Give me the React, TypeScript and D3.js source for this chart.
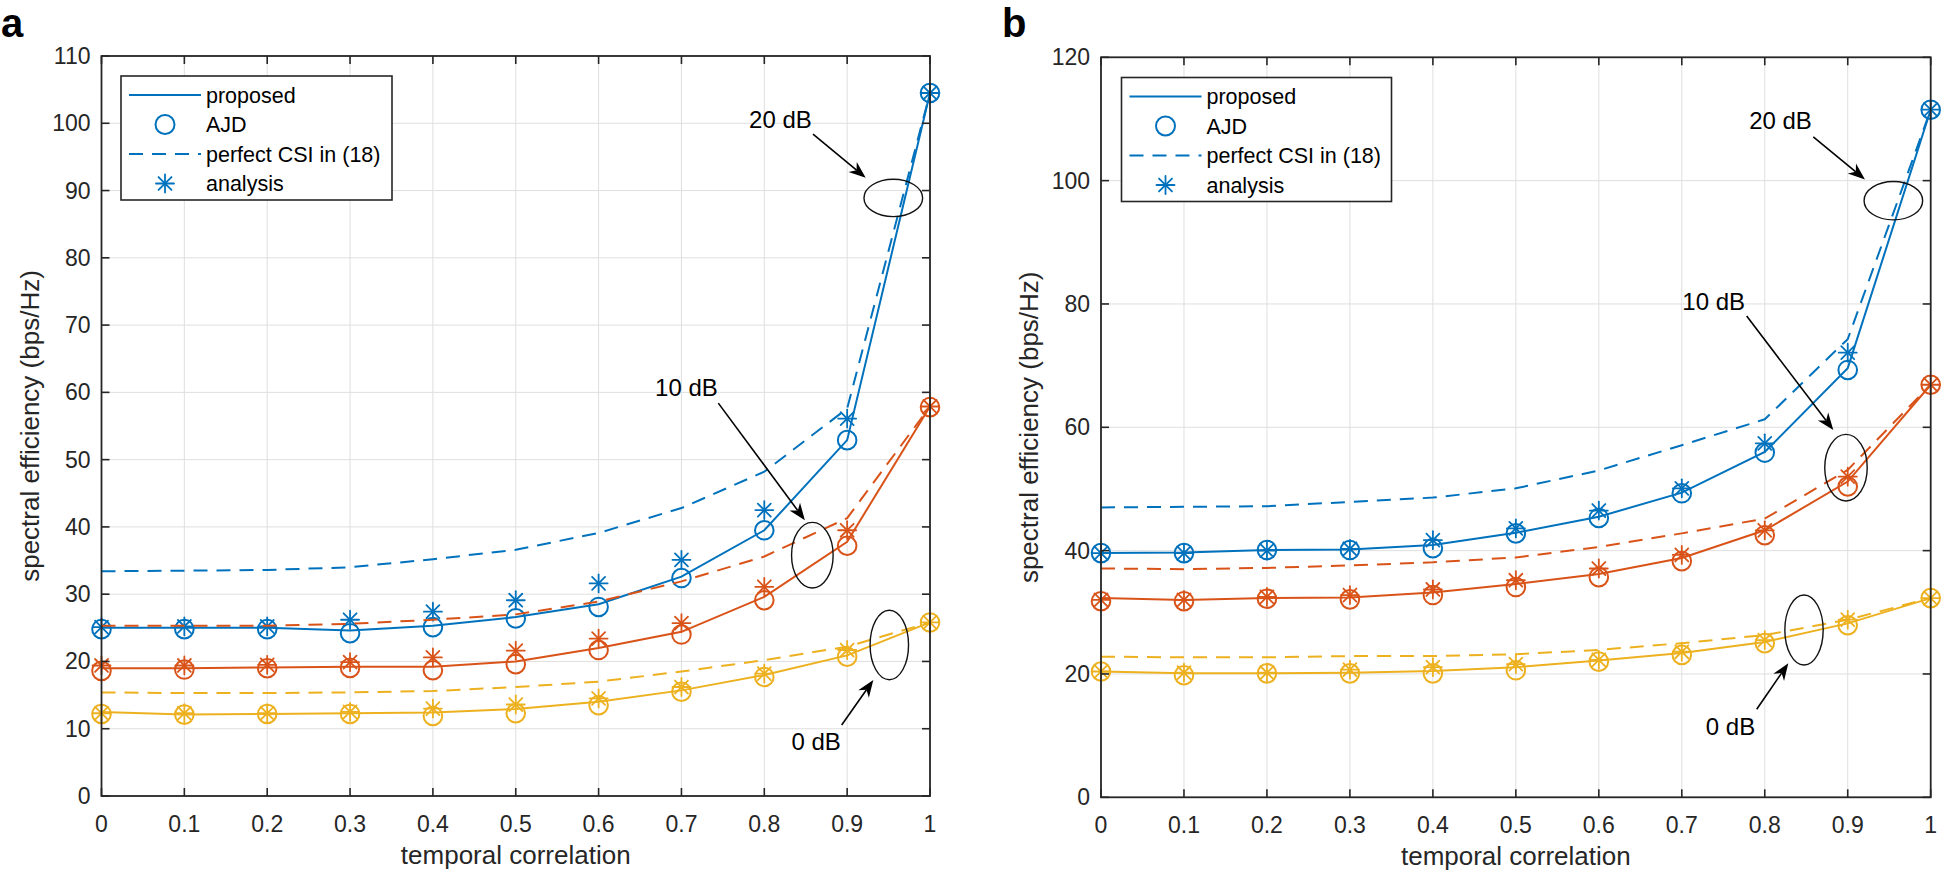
import React from 'react';
import * as d3 from 'd3';

// ---------------- data ----------------
const xValues = [0, 0.1, 0.2, 0.3, 0.4, 0.5, 0.6, 0.7, 0.8, 0.9, 1];
const xTicks = [0, 0.1, 0.2, 0.3, 0.4, 0.5, 0.6, 0.7, 0.8, 0.9, 1];
const yTicksA = [0, 10, 20, 30, 40, 50, 60, 70, 80, 90, 100, 110];
const yTicksB = [0, 20, 40, 60, 80, 100, 120];

// panel a
const proposedA20 = [25.0, 25.0, 25.0, 24.6, 25.3, 26.6, 28.5, 32.6, 39.5, 52.9, 104.5];
const ajdA20 = [24.8, 24.8, 24.8, 24.2, 25.1, 26.4, 28.1, 32.4, 39.5, 52.9, 104.5];
const csiA20 = [33.4, 33.5, 33.6, 34.0, 35.2, 36.6, 39.1, 42.8, 48.2, 57.6, 104.5];
const anaA20 = [25.1, 25.2, 25.2, 26.2, 27.4, 29.1, 31.6, 35.1, 42.5, 56.1, 104.5];

const proposedA10 = [19.0, 19.0, 19.1, 19.2, 19.2, 20.0, 22.0, 24.4, 29.6, 37.8, 57.9];
const ajdA10 = [18.6, 18.8, 19.0, 19.05, 18.7, 19.6, 21.7, 24.0, 29.1, 37.2, 57.8];
const csiA10 = [25.3, 25.3, 25.3, 25.6, 26.2, 27.0, 28.9, 31.9, 35.6, 41.3, 57.9];
const anaA10 = [19.4, 19.4, 19.5, 19.9, 20.6, 21.6, 23.4, 25.7, 31.1, 39.5, 57.9];

const proposedA0 = [12.5, 12.1, 12.2, 12.3, 12.4, 12.95, 14.0, 15.7, 18.0, 20.9, 25.8];
const ajdA0 = [12.2, 12.1, 12.2, 12.2, 11.9, 12.3, 13.5, 15.5, 17.7, 20.7, 25.8];
const csiA0 = [15.4, 15.3, 15.3, 15.4, 15.6, 16.2, 17.0, 18.5, 20.2, 22.2, 25.8];
const anaA0 = [12.3, 12.3, 12.3, 12.5, 13.0, 13.6, 14.5, 16.2, 18.2, 21.7, 25.8];

// panel b
const proposedB20 = [39.6, 39.7, 40.1, 40.2, 40.9, 42.9, 45.5, 49.4, 56.0, 69.6, 111.5];
const ajdB20 = [39.6, 39.6, 40.1, 40.1, 40.4, 42.8, 45.3, 49.3, 55.9, 69.3, 111.5];
const csiB20 = [47.0, 47.1, 47.2, 47.9, 48.6, 50.1, 53.0, 57.1, 61.3, 74.3, 111.5];
const anaB20 = [39.6, 39.6, 40.0, 40.3, 41.7, 43.6, 46.5, 50.1, 57.4, 72.1, 111.5];

const proposedB10 = [32.3, 32.0, 32.3, 32.4, 33.2, 34.6, 36.2, 38.8, 43.3, 51.2, 66.9];
const ajdB10 = [31.8, 31.8, 32.2, 32.1, 32.8, 34.1, 35.7, 38.3, 42.5, 50.4, 66.9];
const csiB10 = [37.1, 37.0, 37.2, 37.6, 38.1, 38.9, 40.6, 42.8, 45.2, 53.1, 66.9];
const anaB10 = [32.0, 32.0, 32.5, 32.8, 33.7, 35.2, 37.1, 39.3, 43.3, 52.0, 66.9];

const proposedB0 = [20.4, 20.1, 20.1, 20.2, 20.5, 21.1, 22.2, 23.4, 25.2, 28.2, 32.3];
const ajdB0 = [20.4, 19.8, 20.1, 20.1, 20.1, 20.6, 22.0, 23.1, 25.0, 27.9, 32.3];
const csiB0 = [22.8, 22.7, 22.7, 22.9, 22.9, 23.2, 23.9, 25.0, 26.3, 28.8, 32.3];
const anaB0 = [20.4, 20.2, 20.2, 20.7, 21.1, 21.6, 22.3, 23.6, 25.5, 28.8, 32.3];

const legendLabels = ['proposed', 'AJD', 'perfect CSI in (18)', 'analysis'];
const xLabel = 'temporal correlation';
const yLabel = 'spectral efficiency (bps/Hz)';

// annotations in data coordinates: text pos, arrow from/to, ellipse centre & radii
const annA = [
  { label: '20 dB', tx: 0.8195, ty: 99.3, ax: 0.8588, ay: 98.4, bx: 0.9224, by: 91.9, ex: 0.9557, ey: 88.9, rx: 0.0354, ry: 2.78 },
  { label: '10 dB', tx: 0.706, ty: 59.4, ax: 0.7445, ay: 58.4, bx: 0.849, by: 41.0, ex: 0.858, ey: 35.8, rx: 0.0251, ry: 4.88 },
  { label: '0 dB', tx: 0.8626, ty: 6.84, ax: 0.8934, ay: 10.55, bx: 0.9316, by: 17.24, ex: 0.9509, ey: 22.45, rx: 0.0232, ry: 5.16 },
];
const annB = [
  { label: '20 dB', tx: 0.819, ty: 108.3, ax: 0.8585, ay: 107.1, bx: 0.9208, by: 100.2, ex: 0.955, ey: 96.75, rx: 0.0353, ry: 3.11 },
  { label: '10 dB', tx: 0.7385, ty: 79.1, ax: 0.7782, ay: 78.05, bx: 0.8826, by: 59.56, ex: 0.8979, ey: 53.45, rx: 0.0256, ry: 5.4 },
  { label: '0 dB', tx: 0.7587, ty: 10.1, ax: 0.7903, ay: 14.27, bx: 0.8284, by: 21.73, ex: 0.8473, ey: 27.13, rx: 0.0231, ry: 5.68 },
];

// ---------------- styling ----------------
const BLUE = '#0072BD';
const RED = '#D95319';
const YELLOW = '#EDB120';
const AXC = '#262626';
const FONT = '"Liberation Sans", Arial, Helvetica, sans-serif';

const seriesA = [
  { color: BLUE, proposed: proposedA20, ajd: ajdA20, csi: csiA20, ana: anaA20 },
  { color: RED, proposed: proposedA10, ajd: ajdA10, csi: csiA10, ana: anaA10 },
  { color: YELLOW, proposed: proposedA0, ajd: ajdA0, csi: csiA0, ana: anaA0 },
];
const seriesB = [
  { color: BLUE, proposed: proposedB20, ajd: ajdB20, csi: csiB20, ana: anaB20 },
  { color: RED, proposed: proposedB10, ajd: ajdB10, csi: csiB10, ana: anaB10 },
  { color: YELLOW, proposed: proposedB0, ajd: ajdB0, csi: csiB0, ana: anaB0 },
];

const Star = ({ cx, cy, r, color }: any) => {
  const d = r * 0.72;
  return (
    <g stroke={color} strokeWidth={1.8} strokeLinecap="round">
      <line x1={cx - r} y1={cy} x2={cx + r} y2={cy} />
      <line x1={cx} y1={cy - r} x2={cx} y2={cy + r} />
      <line x1={cx - d} y1={cy - d} x2={cx + d} y2={cy + d} />
      <line x1={cx - d} y1={cy + d} x2={cx + d} y2={cy - d} />
    </g>
  );
};

const Arrow = ({ x1, y1, x2, y2 }: any) => {
  const L = 17, w = 6.5;
  const dx = x2 - x1, dy = y2 - y1;
  const len = Math.hypot(dx, dy);
  const ux = dx / len, uy = dy / len;
  const nx = -uy, ny = ux;
  const bx = x2 - ux * L, by = y2 - uy * L;
  const notchX = x2 - ux * L * 0.7, notchY = y2 - uy * L * 0.7;
  const pts = [
    [x2, y2],
    [bx + nx * w, by + ny * w],
    [notchX, notchY],
    [bx - nx * w, by - ny * w],
  ];
  return (
    <g>
      <line x1={x1} y1={y1} x2={notchX} y2={notchY} stroke="#000" strokeWidth={1.6} />
      <polygon points={pts.map((p) => p.join(',')).join(' ')} fill="#000" />
    </g>
  );
};

const Panel = ({ x0, x1, y0, y1, yMax, yTicks, series, ann, legend, letter, letterX }: any) => {
  const xs = d3.scaleLinear().domain([0, 1]).range([x0, x1]);
  const ys = d3.scaleLinear().domain([0, yMax]).range([y1, y0]);
  const line = d3
    .line<number>()
    .x((_, i) => xs(xValues[i]))
    .y((d) => ys(d));
  const tick = 8;
  return (
    <g fontFamily={FONT}>
      <text x={letterX} y={37} fontSize={40} fontWeight="bold" fill="#000">{letter}</text>
      {/* grid */}
      <g stroke="#dfdfdf" strokeWidth={1}>
        {xTicks.map((t) => (
          <line key={'gx' + t} x1={xs(t)} x2={xs(t)} y1={y0} y2={y1} />
        ))}
        {yTicks.map((t: number) => (
          <line key={'gy' + t} x1={x0} x2={x1} y1={ys(t)} y2={ys(t)} />
        ))}
      </g>
      {/* series */}
      {series.map((s: any, k: number) => (
        <g key={'s' + k}>
          <path d={line(s.proposed) || ''} fill="none" stroke={s.color} strokeWidth={2} />
          <path d={line(s.csi) || ''} fill="none" stroke={s.color} strokeWidth={2} strokeDasharray="14,9" />
          {s.ajd.map((v: number, i: number) => (
            <circle key={'c' + i} cx={xs(xValues[i])} cy={ys(v)} r={9.3} fill="none" stroke={s.color} strokeWidth={2} />
          ))}
          {s.ana.map((v: number, i: number) => (
            <Star key={'st' + i} cx={xs(xValues[i])} cy={ys(v)} r={9} color={s.color} />
          ))}
        </g>
      ))}
      {/* axes box */}
      <rect x={x0} y={y0} width={x1 - x0} height={y1 - y0} fill="none" stroke={AXC} strokeWidth={1.8} />
      <g stroke={AXC} strokeWidth={1.6}>
        {xTicks.map((t) => (
          <g key={'tx' + t}>
            <line x1={xs(t)} x2={xs(t)} y1={y1} y2={y1 - tick} />
            <line x1={xs(t)} x2={xs(t)} y1={y0} y2={y0 + tick} />
          </g>
        ))}
        {yTicks.map((t: number) => (
          <g key={'ty' + t}>
            <line x1={x0} x2={x0 + tick} y1={ys(t)} y2={ys(t)} />
            <line x1={x1} x2={x1 - tick} y1={ys(t)} y2={ys(t)} />
          </g>
        ))}
      </g>
      <g fill={AXC} fontSize={23}>
        {xTicks.map((t) => (
          <text key={'lx' + t} x={xs(t)} y={y1 + 36} textAnchor="middle">{String(t)}</text>
        ))}
        {yTicks.map((t: number) => (
          <text key={'ly' + t} x={x0 - 11} y={ys(t) + 8} textAnchor="end">{t}</text>
        ))}
      </g>
      <text x={(x0 + x1) / 2} y={y1 + 68} textAnchor="middle" fontSize={26} fill={AXC}>{xLabel}</text>
      <text
        transform={`translate(${x0 - 63},${(y0 + y1) / 2}) rotate(-90)`}
        textAnchor="middle"
        fontSize={26}
        fill={AXC}
      >
        {yLabel}
      </text>
      {/* annotations */}
      {ann.map((a: any) => (
        <g key={a.label}>
          <text x={xs(a.tx)} y={ys(a.ty)} textAnchor="middle" fontSize={24} fill="#000">{a.label}</text>
          <Arrow x1={xs(a.ax)} y1={ys(a.ay)} x2={xs(a.bx)} y2={ys(a.by)} />
          <ellipse
            cx={xs(a.ex)}
            cy={ys(a.ey)}
            rx={xs(a.rx) - xs(0)}
            ry={ys(0) - ys(a.ry)}
            fill="none"
            stroke="#111"
            strokeWidth={1.4}
          />
        </g>
      ))}
      {/* legend */}
      <g>
        <rect x={legend.x} y={legend.y} width={legend.w} height={legend.h} fill="#fff" stroke={AXC} strokeWidth={1.6} />
        {legendLabels.map((lab, i) => {
          const cy = legend.y + 19 + i * 29.5;
          const lx0 = legend.x + 8, lx1 = legend.x + 80, mx = legend.x + 44;
          return (
            <g key={lab}>
              {i === 0 && <line x1={lx0} x2={lx1} y1={cy} y2={cy} stroke={BLUE} strokeWidth={2} />}
              {i === 1 && <circle cx={mx} cy={cy} r={9.5} fill="none" stroke={BLUE} strokeWidth={2} />}
              {i === 2 && <line x1={lx0} x2={lx1} y1={cy} y2={cy} stroke={BLUE} strokeWidth={2} strokeDasharray="14,9" />}
              {i === 3 && <Star cx={mx} cy={cy} r={9} color={BLUE} />}
              <text x={legend.x + 85} y={cy + 7.5} fontSize={21.5} fill="#000">{lab}</text>
            </g>
          );
        })}
      </g>
    </g>
  );
};

export default function App() {
  return (
    <svg
      width={1943}
      height={876}
      viewBox="0 0 1943 876"
      style={{ position: 'absolute', left: 0, top: 0, background: '#fff' }}
    >
      <rect x={0} y={0} width={1943} height={876} fill="#fff" />
      <Panel
        x0={101.5}
        x1={930}
        y0={56}
        y1={796}
        yMax={110}
        yTicks={yTicksA}
        series={seriesA}
        ann={annA}
        legend={{ x: 121, y: 76, w: 271, h: 124 }}
        letter="a"
        letterX={1}
      />
      <Panel
        x0={1101}
        x1={1930.7}
        y0={57.3}
        y1={797.3}
        yMax={120}
        yTicks={yTicksB}
        series={seriesB}
        ann={annB}
        legend={{ x: 1121.5, y: 77.5, w: 270, h: 124 }}
        letter="b"
        letterX={1002}
      />
    </svg>
  );
}
